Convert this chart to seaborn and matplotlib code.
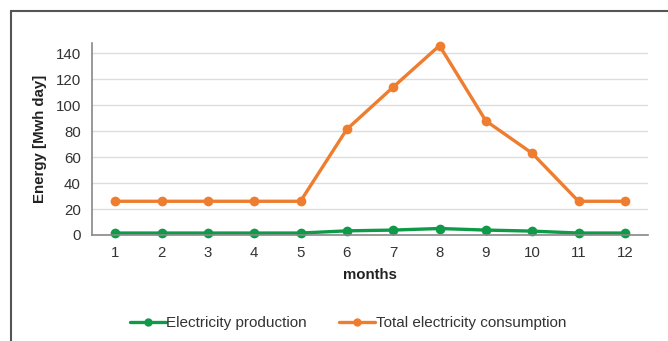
import matplotlib
matplotlib.use("Agg")
import matplotlib.pyplot as plt
import seaborn as sns
import pandas as pd
from matplotlib.patches import Rectangle
from matplotlib.lines import Line2D

months = list(range(1, 13))
production = [1.5, 1.5, 1.5, 1.5, 1.5, 3.2, 3.8, 5.0, 3.8, 3.0, 1.5, 1.5]
consumption = [26, 26, 26, 26, 26, 81.5, 114, 146, 88, 63, 26, 26]
series_names = ["Electricity production", "Total electricity consumption"]
colors = ["#0e9a48", "#ee7d2f"]
yticks = [0, 20, 40, 60, 80, 100, 120, 140]

df = pd.DataFrame({
    "month": months * 2,
    "value": production + consumption,
    "series": [series_names[0]] * 12 + [series_names[1]] * 12,
})

sns.set_theme(style="white")
plt.rcParams["font.family"] = ["Liberation Sans", "DejaVu Sans"]

fig = plt.figure(figsize=(6.68, 3.41), dpi=100)
ax = fig.add_axes([92 / 668, 106 / 341, (648 - 92) / 668, (235 - 43) / 341])

sns.lineplot(data=df, x="month", y="value", hue="series",
             palette=dict(zip(series_names, colors)),
             hue_order=series_names[::-1],
             marker="o", markersize=7, markeredgewidth=0,
             linewidth=2.4, ax=ax, legend=False)
for ln in ax.lines:
    ln.set_clip_on(False)

ax.set_xlim(0.5, 12.5)
ax.set_ylim(0, 148)
ax.set_xticks(months)
ax.set_yticks(yticks)
ax.tick_params(axis="both", labelsize=10.8, colors="#333333", length=0, pad=8)
ax.grid(axis="y", color="#dddddd", linewidth=1)
ax.set_axisbelow(True)
for s in ["top", "right"]:
    ax.spines[s].set_visible(False)
ax.spines["left"].set_color("#888888")
ax.spines["bottom"].set_color("#888888")
ax.spines["left"].set_linewidth(1.2)
ax.spines["bottom"].set_linewidth(1.2)

ax.set_xlabel("months", fontsize=10.8, fontweight="bold", color="#222222", labelpad=6)
ax.set_ylabel("Energy [Mwh day]", fontsize=10.8, fontweight="bold", color="#222222", labelpad=6)

handles = [Line2D([0], [0], color=c, lw=2.4, marker="o", markersize=6, markeredgewidth=0)
           for c in colors]
fig.legend(handles, series_names, loc="center", bbox_to_anchor=(0.521, 0.053),
           ncol=2, frameon=False, fontsize=11, handlelength=2.35,
           handletextpad=0.05, columnspacing=2.1, labelcolor="#333333")

fig.patches.append(Rectangle((11 / 668, -0.1), 1.2, 1 - 11 / 341 + 0.1,
                             transform=fig.transFigure, fill=False,
                             edgecolor="#555555", linewidth=1.5))

fig.savefig("out.png", dpi=100)
